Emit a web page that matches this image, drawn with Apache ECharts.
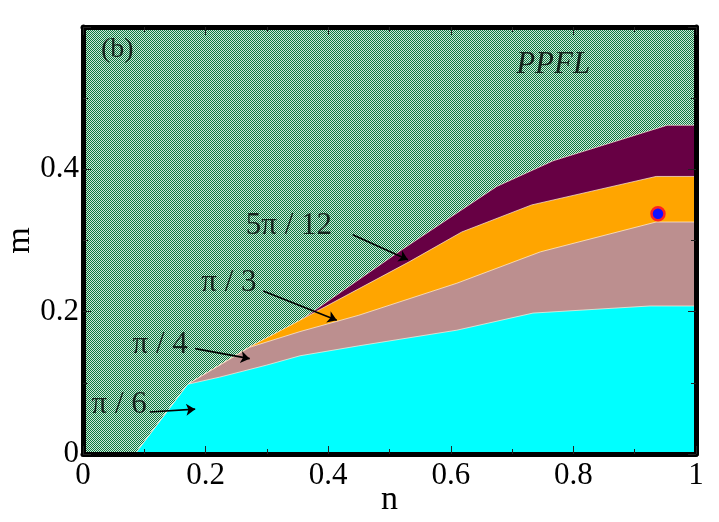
<!DOCTYPE html>
<html>
<head>
    <meta charset="utf-8">
    <title>phase diagram (b)</title>
    <script src="https://cdn.jsdelivr.net/npm/echarts@6/dist/echarts.min.js"></script>
    <style>
        body { margin: 0; background: #fff; }
    </style>
</head>
<body>
    <div id="main" style="width: 719px;height:522px;"></div>
    <script type="text/javascript">
        // boundaries (n, m), each the top edge of a region
        var topPi6 = [[0.085, 0], [0.171, 0.098], [0.223, 0.108], [0.30, 0.125], [0.354, 0.138],
            [0.45, 0.152], [0.61, 0.174], [0.734, 0.198], [0.925, 0.208], [1, 0.208]]
        var topPi4 = [[0.085, 0], [0.171, 0.098], [0.272, 0.150], [0.354, 0.172], [0.45, 0.195],
            [0.61, 0.240], [0.746, 0.284], [0.935, 0.326], [1, 0.326]]
        var topPi3 = [[0.085, 0], [0.171, 0.098], [0.275, 0.152], [0.341, 0.182], [0.532, 0.270],
            [0.618, 0.312], [0.732, 0.350], [0.935, 0.390], [1, 0.390]]
        var top5Pi12 = [[0.085, 0], [0.171, 0.098], [0.275, 0.152], [0.348, 0.184], [0.52, 0.287],
            [0.675, 0.376], [0.767, 0.412], [0.953, 0.462], [1, 0.462]]
        var marker = [[0.938, 0.3375]]

        // region labels and their arrows
        var labelNames = ['(b)', 'PPFL', '5π / 12', 'π / 3', 'π / 4', 'π / 6']
        var labelPos = [[0.056, 0.568], [0.767, 0.547], [0.336, 0.321], [0.238, 0.240], [0.126, 0.153], [0.059, 0.069]]
        var arrows = [
            [[0.44, 0.308], [0.530, 0.273]],
            [[0.294, 0.229], [0.414, 0.188]],
            [[0.183, 0.148], [0.272, 0.134]],
            [[0.109, 0.059], [0.183, 0.063]]
        ]
        var xTicks = [0, 1, 0.2]
        var yTicks = [0, 0.6, 0.2]

        var serif = "'Liberation Serif', 'Times New Roman', Times, serif"

        // green / white checker for the PPFL background
        var cv = document.createElement('canvas')
        cv.width = 2
        cv.height = 2
        var cx = cv.getContext('2d')
        cx.fillStyle = '#d0eadc'
        cx.fillRect(0, 0, 2, 2)
        cx.fillStyle = '#0e7840'
        cx.fillRect(0, 0, 1, 1)
        cx.fillRect(1, 1, 1, 1)

        function region(data, color, z) {
            return {
                type: 'line',
                data: data,
                symbol: 'none',
                z: z,
                lineStyle: { color: 'rgba(255,240,220,0.7)', width: 1 },
                areaStyle: { color: color, opacity: 1, origin: 'start' },
                silent: true
            }
        }

        function axisBits(extra) {
            return Object.assign({
                z: 20,
                nameMoveOverlap: false,
                axisLine: { show: true, onZero: false, lineStyle: { color: '#000', width: 5 } },
                axisTick: { show: true, inside: true, length: 8, lineStyle: { color: '#222', width: 1 } },
                minorTick: { show: true, splitNumber: 2, length: 5, lineStyle: { color: '#222', width: 1 } },
                splitLine: { show: false }
            }, extra)
        }

        var myChart = echarts.init(document.getElementById('main'))
        var option = {
            animation: false,
            grid: {
                left: 83, right: 23, top: 27, bottom: 68,
                containLabel: false,
                outerBoundsMode: 'none',
                show: true,
                borderWidth: 0,
                backgroundColor: { image: cv, repeat: 'repeat' }
            },
            xAxis: [
                axisBits({
                    type: 'value', min: xTicks[0], max: xTicks[1], interval: xTicks[2],
                    name: 'n', nameLocation: 'middle', nameGap: 29,
                    nameTextStyle: { fontFamily: serif, fontSize: 34, color: '#000' },
                    axisLabel: { fontFamily: serif, fontSize: 31, color: '#000', margin: 6 }
                }),
                axisBits({
                    type: 'value', position: 'top', min: xTicks[0], max: xTicks[1], interval: xTicks[2],
                    axisLabel: { show: false }
                })
            ],
            yAxis: [
                axisBits({
                    type: 'value', min: yTicks[0], max: yTicks[1], interval: yTicks[2],
                    name: 'm', nameLocation: 'middle', nameGap: 46,
                    nameTextStyle: { fontFamily: serif, fontSize: 34, color: '#000' },
                    axisLabel: { fontFamily: serif, fontSize: 31, color: '#000', margin: 4, showMaxLabel: false }
                }),
                axisBits({
                    type: 'value', position: 'right', min: yTicks[0], max: yTicks[1], interval: yTicks[2],
                    axisLabel: { show: false }
                })
            ],
            series: [
                region(top5Pi12, '#670044', 2),
                region(topPi3, '#ffa500', 3),
                region(topPi4, '#bc8f8f', 4),
                region(topPi6, '#00ffff', 5),
                {
                    type: 'lines',
                    coordinateSystem: 'cartesian2d',
                    z: 8,
                    symbol: ['none', 'arrow'],
                    symbolSize: 9,
                    lineStyle: { color: '#000', width: 1.7, opacity: 1 },
                    data: arrows.map(function (a) { return { coords: a } }),
                    silent: true
                },
                {
                    type: 'scatter',
                    z: 9,
                    symbolSize: 1,
                    itemStyle: { color: 'rgba(0,0,0,0)' },
                    data: labelNames.map(function (n, i) { return { name: n, value: labelPos[i] } }),
                    label: {
                        show: true,
                        position: 'inside',
                        formatter: '{b}',
                        fontFamily: serif,
                        fontSize: 31,
                        color: '#000'
                    },
                    silent: true
                },
                {
                    type: 'scatter',
                    z: 10,
                    data: marker,
                    symbolSize: 13,
                    itemStyle: { color: '#1010ff', borderColor: '#ff2020', borderWidth: 2.5, opacity: 1 },
                    silent: true
                }
            ]
        }
        // PPFL is set in italics, the panel tag is a bit smaller
        option.series[5].data[1].label = { fontStyle: 'italic', fontSize: 31 }
        option.series[5].data[0].label = { fontSize: 28 }
        myChart.setOption(option)
    </script>
</body>
</html>
